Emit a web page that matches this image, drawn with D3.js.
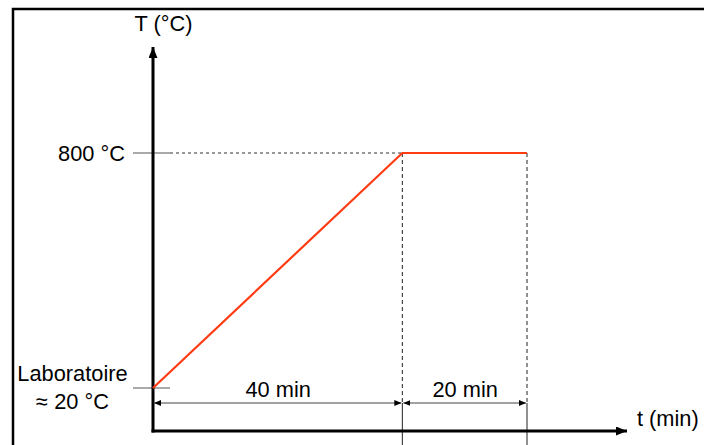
<!DOCTYPE html>
<html><head><meta charset="utf-8">
<script src="https://cdn.jsdelivr.net/npm/d3@7"></script>
<style>body{margin:0;background:#fff}svg{display:block}text{font-family:"Liberation Sans",Arial,sans-serif;fill:#000}</style>
</head><body>
<svg id="c" width="704" height="445"></svg>
<script>
const times = [0, 40, 60];
const temps = [20, 800, 800];
const phaseLabels = ["40 min", "20 min"];
const yLabels = ["800 °C"];
const labLabel = ["Laboratoire", "≈ 20 °C"];
const axisTitles = {x: "t (min)", y: "T (°C)"};

const svg = d3.select("#c");
const x = d3.scaleLinear().domain([0, 60]).range([153, 527]);
const y = d3.scaleLinear().domain([20, 800]).range([388, 153]);
const axisY = 431, axisX = 153;
const fs = 21.8;

const defs = svg.append("defs");
function marker(id, w, h, col) {
  defs.append("marker").attr("id", id).attr("viewBox", `0 0 ${w} ${h}`)
    .attr("refX", w).attr("refY", h/2).attr("markerWidth", w).attr("markerHeight", h)
    .attr("markerUnits", "userSpaceOnUse").attr("orient", "auto-start-reverse")
    .append("path").attr("d", `M0,0L${w},${h/2}L0,${h}Z`).attr("fill", col);
}
marker("big", 11, 9, "#000");
marker("small", 7, 6, "#000");

// frame
svg.append("rect").attr("x", 13).attr("y", 9).attr("width", 700).attr("height", 460)
  .attr("fill", "none").attr("stroke", "#000").attr("stroke-width", 2.5);

// dashed guides
svg.append("line").attr("x1", 170).attr("x2", x(40)).attr("y1", y(800)).attr("y2", y(800))
  .attr("stroke", "#333").attr("stroke-width", 1).attr("stroke-dasharray", "3,3");
[40, 60].forEach(t => {
  svg.append("line").attr("x1", x(t)).attr("x2", x(t)).attr("y1", y(800)).attr("y2", 403)
    .attr("stroke", "#222").attr("stroke-width", 1).attr("stroke-dasharray", "4,3");
  svg.append("line").attr("x1", x(t)).attr("x2", x(t)).attr("y1", 403).attr("y2", 445)
    .attr("stroke", "#222").attr("stroke-width", 1);
});

// ticks
[800, 20].forEach(v => {
  svg.append("line").attr("x1", 133).attr("x2", 170).attr("y1", y(v)).attr("y2", y(v))
    .attr("stroke", "#555").attr("stroke-width", 1.2);
});

// axes
svg.append("line").attr("x1", axisX).attr("x2", axisX).attr("y1", axisY + 1.5).attr("y2", 47)
  .attr("stroke", "#000").attr("stroke-width", 3).attr("marker-end", "url(#big)");
svg.append("line").attr("x1", axisX - 1.5).attr("x2", 627).attr("y1", axisY).attr("y2", axisY)
  .attr("stroke", "#000").attr("stroke-width", 3).attr("marker-end", "url(#big)");

// dimension arrows
for (let i = 0; i < times.length - 1; i++) {
  svg.append("line").attr("x1", x(times[i]) + 1).attr("x2", x(times[i+1]) - 1)
    .attr("y1", 403).attr("y2", 403).attr("stroke", "#444").attr("stroke-width", 1)
    .attr("marker-start", "url(#small)").attr("marker-end", "url(#small)");
  svg.append("text").attr("x", (x(times[i]) + x(times[i+1])) / 2 + 0.5).attr("y", 397)
    .attr("text-anchor", "middle").attr("font-size", fs).text(phaseLabels[i]);
}

// data line
svg.append("path").datum(times.map((t, i) => [t, temps[i]]))
  .attr("d", d3.line().x(d => x(d[0])).y(d => y(d[1])))
  .attr("fill", "none").attr("stroke", "#ff3b12").attr("stroke-width", 2.2);

// labels
svg.append("text").attr("x", 163.5).attr("y", 31).attr("text-anchor", "middle").attr("font-size", fs).text(axisTitles.y);
svg.append("text").attr("x", 637).attr("y", 426).attr("font-size", fs).text(axisTitles.x);
svg.append("text").attr("x", 125).attr("y", 161).attr("text-anchor", "end").attr("font-size", fs).text(yLabels[0]);
svg.append("text").attr("x", 72.5).attr("y", 381).attr("text-anchor", "middle").attr("font-size", fs).text(labLabel[0]);
svg.append("text").attr("x", 72.5).attr("y", 409).attr("text-anchor", "middle").attr("font-size", fs).text(labLabel[1]);
</script>
</body></html>
